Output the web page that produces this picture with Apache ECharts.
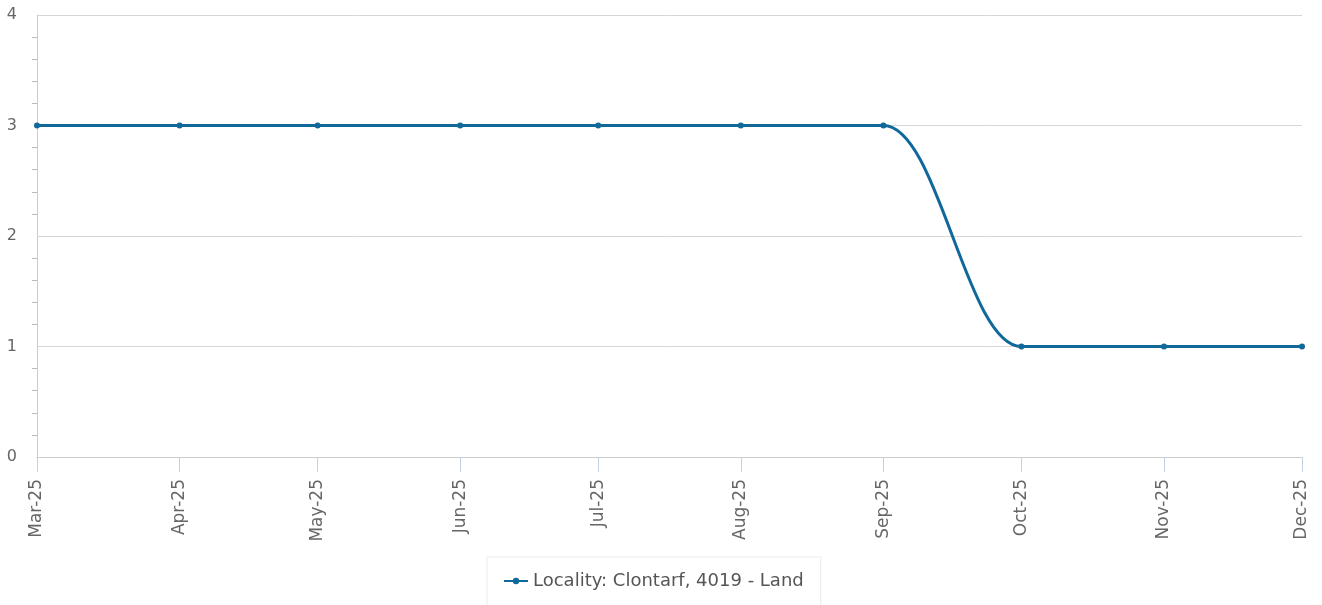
<!DOCTYPE html>
<html><head><meta charset="utf-8">
<script src="https://cdn.jsdelivr.net/npm/echarts@6/dist/echarts.min.js"></script>
<style>html,body{margin:0;padding:0;background:#fff}#c{width:1322px;height:605px}</style>
</head><body><div id="c"></div>
<script>
const months = ['2025-03-01','2025-04-01','2025-05-01','2025-06-01','2025-07-01','2025-08-01','2025-09-01','2025-10-01','2025-11-01','2025-12-01'];
const values = [3,3,3,3,3,3,3,1,1,1];
const seriesName = 'Locality: Clontarf, 4019 - Land';
const yTicks = [0,1,2,3,4];
const monthNames = ['Jan','Feb','Mar','Apr','May','Jun','Jul','Aug','Sep','Oct','Nov','Dec'];

const ts = months.map(m => { const [y,mo,d] = m.split('-').map(Number); return Date.UTC(y, mo-1, d); });
function fmt(v){ const d = new Date(v); return monthNames[d.getUTCMonth()] + '-' + String(d.getUTCFullYear()).slice(2); }

const FONT = 'DejaVu Sans';
const chart = echarts.init(document.getElementById('c'));
chart.setOption({
  animation:false,
  textStyle:{fontFamily:FONT},
  grid:{left:37,right:20,top:15,bottom:148,containLabel:false},
  legend:{
    top:557, left:487,
    data:[seriesName],
    borderColor:'#ebebeb', borderWidth:1, borderRadius:0,
    padding:[15,17,20,16],
    itemWidth:24, itemHeight:8, itemGap:10,
    textStyle:{color:'#555',fontSize:18,fontFamily:FONT}
  },
  xAxis:{
    type:'value',
    min:ts[0], max:ts[ts.length-1],
    axisLine:{lineStyle:{color:'#ccc'}},
    axisTick:{show:true,length:15,lineStyle:{color:'#c4d0e8'},customValues:ts},
    axisLabel:{rotate:90,color:'#666',fontSize:17,fontFamily:FONT,margin:22,customValues:ts,formatter:fmt,hideOverlap:false},
    splitLine:{show:false}
  },
  yAxis:{
    type:'value', min:0, max:4, interval:1,
    axisLine:{show:true,lineStyle:{color:'#ccc'}},
    axisTick:{show:false},
    minorTick:{show:true,splitNumber:5,length:5,lineStyle:{color:'#bbb'}},
    axisLabel:{color:'#666',fontSize:16,fontFamily:FONT,margin:20},
    splitLine:{lineStyle:{color:'#d6d6d6'}}
  },
  series:[{
    name:seriesName,
    type:'line',
    data:ts.map((t,i)=>[t,values[i]]),
    smooth:0.4,
    smoothMonotone:'x',
    symbol:'circle', symbolSize:6,
    lineStyle:{color:'#10699a',width:3},
    itemStyle:{color:'#10699a'}
  }]
});
</script></body></html>
